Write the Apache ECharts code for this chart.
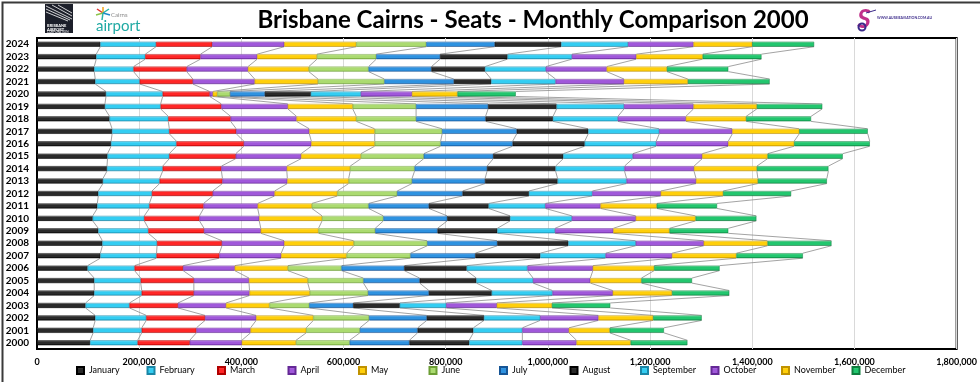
<!DOCTYPE html>
<html>
<head>
<meta charset="utf-8">
<script src="https://cdn.jsdelivr.net/npm/echarts@6/dist/echarts.min.js"></script>
<style>
html,body{margin:0;padding:0;background:#fff;}
#chart{width:980px;height:382px;}
</style>
</head>
<body>
<div id="chart"></div>
<script>
const years = ['2000','2001','2002','2003','2004','2005','2006','2007','2008','2009','2010','2011','2012','2013','2014','2015','2016','2017','2018','2019','2020','2021','2022','2023','2024'];
const months = ['January','February','March','April','May','June','July','August','September','October','November','December'];
const xTicks = [0,200000,400000,600000,800000,1000000,1200000,1400000,1600000,1800000];

const january   = [104000,110000,114000,95000,112000,112000,99000,124000,128000,120000,109000,118000,120000,129000,137000,138000,145000,147000,142000,133000,135000,114000,112000,116000,124000];
const february  = [93000,95000,100000,86000,93000,91000,92000,110000,107000,98000,101000,102000,105000,111000,109000,121000,128000,112000,115000,109000,111000,87000,77000,96000,109000];
const march     = [102000,107000,115000,95000,102000,104000,95000,123000,127000,109000,108000,106000,119000,123000,115000,130000,132000,131000,122000,119000,92000,104000,104000,108000,110000];
const april     = [102000,106000,100000,94000,109000,108000,101000,121000,122000,111000,117000,106000,121000,127000,128000,128000,132000,143000,129000,130000,6000,121000,120000,111000,141000];
const may       = [106000,109000,112000,85000,118000,115000,104000,128000,136000,113000,123000,106000,123000,120000,124000,117000,124000,128000,117000,127000,9000,124000,119000,117000,141000];
const june      = [105000,105000,109000,78000,114000,109000,105000,125000,144000,111000,120000,111000,117000,124000,126000,123000,129000,132000,117000,124000,25000,130000,117000,116000,137000];
const july      = [117000,113000,113000,86000,119000,110000,123000,127000,137000,122000,125000,118000,128000,143000,142000,136000,141000,146000,136000,141000,68000,136000,123000,125000,134000];
const august    = [117000,109000,112000,91000,123000,111000,122000,127000,139000,117000,123000,117000,130000,142000,134000,137000,141000,140000,132000,134000,90000,73000,105000,132000,130000];
const september = [104000,96000,110000,91000,119000,111000,119000,128000,132000,113000,121000,111000,124000,135000,135000,136000,140000,139000,127000,132000,98000,126000,119000,126000,131000];
const october   = [106000,91000,114000,99000,118000,112000,128000,130000,133000,114000,125000,108000,134000,136000,136000,136000,141000,143000,133000,136000,100000,134000,119000,126000,128000];
const november  = [106000,80000,107000,108000,116000,100000,120000,126000,125000,110000,117000,110000,122000,121000,123000,128000,129000,131000,118000,124000,89000,125000,118000,130000,115000];
const december  = [111000,106000,95000,114000,112000,99000,128000,130000,125000,115000,119000,118000,133000,135000,140000,147000,148000,134000,127000,128000,114000,160000,120000,115000,121000];

const seriesValues = [january,february,march,april,may,june,july,august,september,october,november,december];

// colour styles: [light, base, dark]
const palette = [
  ['#9a9a9a','#2a2a2a','#000000'],
  ['#b8f2ff','#33cdf2','#1a86a6'],
  ['#ffa8a8','#ff2626','#b00000'],
  ['#dcb8f6','#a058da','#642896'],
  ['#fff6b0','#ffcf0a','#c09200'],
  ['#e6f8cc','#abdb70','#6c9e34'],
  ['#a8d4f8','#2e92e0','#165596'],
  ['#9a9a9a','#2a2a2a','#000000'],
  ['#b8f2ff','#33cdf2','#1a86a6'],
  ['#dcb8f6','#a058da','#642896'],
  ['#fff6b0','#ffcf0a','#c09200'],
  ['#a4f4c6','#22c66e','#0e7e3e']
];

function grad(c){
  return {type:'linear',x:0,y:0,x2:0,y2:1,colorStops:[
    {offset:0,color:c[0]},{offset:0.3,color:c[1]},{offset:0.75,color:c[1]},{offset:1,color:c[2]}
  ]};
}

// cumulative boundaries per year (derived from the data arrays)
const cum = years.map((y, i) => {
  let s = 0;
  return seriesValues.map(arr => (s += arr[i]));
});

const BAR_W = 5;

const series = months.map((m, k) => ({
  name: m,
  type: 'bar',
  stack: 'total',
  barWidth: BAR_W,
  data: seriesValues[k],
  itemStyle: {color: grad(palette[k]), borderColor: palette[k][2], borderWidth: 0.5},
  emphasis: {disabled: true},
  z: 3
}));

series.push({
  type: 'custom',
  name: 'seriesLines',
  coordinateSystem: 'cartesian2d',
  silent: true,
  z: 2,
  encode: {x: 0, y: 1},
  data: years.slice(0, years.length - 1).map((y, i) => [0, i]),
  renderItem: function(params, api){
    const i = params.dataIndex;
    const half = BAR_W / 2;
    const children = [];
    for (let k = 0; k < 12; k++) {
      const a = api.coord([cum[i][k], i]);
      const b = api.coord([cum[i+1][k], i+1]);
      children.push({type:'line', shape:{x1:a[0], y1:a[1]-half, x2:b[0], y2:b[1]+half},
        style:{stroke:'#8c8c8c', lineWidth:0.8}});
    }
    return {type:'group', children: children};
  }
});

function fmt(v){
  return String(v).replace(/\B(?=(\d{3})+(?!\d))/g, ',');
}

const legends = months.map((m, k) => ({
  data: [m], left: 76 + k * 70.5, top: 366, icon: 'rect', itemWidth: 7, itemHeight: 7,
  textStyle: {fontFamily: 'Lato', fontSize: 9, color: '#000'},
  selectedMode: false, padding: 0
}));

const chart = echarts.init(document.getElementById('chart'), null, {renderer:'canvas'});
chart.setOption({
  animation: false,
  backgroundColor: '#ffffff',
  grid: {left: 37, right: 23, top: 38, bottom: 33, show: true, borderColor: '#000', borderWidth: 2},
  xAxis: {
    type: 'value', min: xTicks[0], max: xTicks[xTicks.length-1], interval: xTicks[1]-xTicks[0],
    axisLine: {show: false}, axisTick: {show: false},
    splitLine: {show: true, lineStyle: {color: '#d9d9d9', width: 1}},
    axisLabel: {formatter: fmt, fontFamily: 'Lato', fontWeight: 'bold', fontSize: 9, color: '#000', margin: 9}
  },
  yAxis: {
    type: 'category', data: years,
    axisLine: {show: true, lineStyle: {color: '#000', width: 2}}, axisTick: {show: false},
    axisLabel: {interval: 0, fontFamily: 'Lato', fontWeight: 'bold', fontSize: 10, color: '#000', margin: 8}
  },
  legend: legends,
  graphic: [
    {type:'rect', left:0, top:0, shape:{width:979, height:381}, style:{fill:'none', stroke:'#3a3a3a', lineWidth:2}, z:100},
    {type:'text', x:533, y:20, style:{text:'Brisbane Cairns - Seats - Monthly Comparison 2000', font:'bold 24px Lato', fill:'#000', textAlign:'center', textVerticalAlign:'middle'}},
    // Brisbane Airport logo
    {type:'rect', shape:{x:45, y:4, width:28, height:29}, style:{fill:'#1c1f2a'}},
    {type:'line', shape:{x1:46, y1:6, x2:72, y2:19}, style:{stroke:'#fff', lineWidth:0.8}},
    {type:'line', shape:{x1:46, y1:9, x2:70, y2:20}, style:{stroke:'#fff', lineWidth:0.8}},
    {type:'line', shape:{x1:46, y1:12, x2:68, y2:21}, style:{stroke:'#fff', lineWidth:0.8}},
    {type:'line', shape:{x1:52, y1:5, x2:72, y2:16}, style:{stroke:'#fff', lineWidth:0.8}},
    {type:'line', shape:{x1:58, y1:5, x2:72, y2:13}, style:{stroke:'#fff', lineWidth:0.8}},
    {type:'text', x:47, y:24, style:{text:'BRISBANE', font:'bold 4px Lato', fill:'#fff'}},
    {type:'text', x:47, y:28, style:{text:'AIRPORT', font:'bold 4px Lato', fill:'#fff'}},
    {type:'text', x:47, y:31, style:{text:'CORPORATION', font:'3px Lato', fill:'#fff'}},
    // Cairns airport logo
    {type:'line', shape:{x1:103, y1:13, x2:97, y2:9}, style:{stroke:'#e2312f', lineWidth:1.5}},
    {type:'line', shape:{x1:103, y1:13, x2:103, y2:7}, style:{stroke:'#f2a51a', lineWidth:1.5}},
    {type:'line', shape:{x1:103, y1:13, x2:109, y2:9}, style:{stroke:'#2ab3a6', lineWidth:1.5}},
    {type:'line', shape:{x1:103, y1:13, x2:96, y2:15}, style:{stroke:'#8bc34a', lineWidth:1.5}},
    {type:'line', shape:{x1:103, y1:13, x2:110, y2:15}, style:{stroke:'#1e88c8', lineWidth:1.5}},
    {type:'line', shape:{x1:103, y1:13, x2:102, y2:20}, style:{stroke:'#2ab3a6', lineWidth:1.5}},
    {type:'text', x:111, y:15, style:{text:'Cairns', font:'6px Lato', fill:'#8a8a8a', textVerticalAlign:'middle'}},
    {type:'text', x:96, y:26, style:{text:'airport', font:'15px Lato', fill:'#1fa9a3', textVerticalAlign:'middle'}},
    // Aussie aviation logo
    {type:'text', x:864, y:20, style:{text:'S', font:'bold italic 26px Lato', fill:'#c0308a', textAlign:'center', textVerticalAlign:'middle'}},
    {type:'circle', shape:{cx:862, cy:27, r:3.5}, style:{fill:'none', stroke:'#3b2a8a', lineWidth:2}},
    {type:'line', shape:{x1:866, y1:13, x2:876, y2:10}, style:{stroke:'#3b2a8a', lineWidth:1}},
    {type:'text', x:877, y:18, style:{text:'WWW.AUSSIEAVIATION.COM.AU', font:'bold 3.5px Lato', fill:'#3b2a8a', textVerticalAlign:'middle'}}
  ],
  series: series
});
</script>
</body>
</html>
